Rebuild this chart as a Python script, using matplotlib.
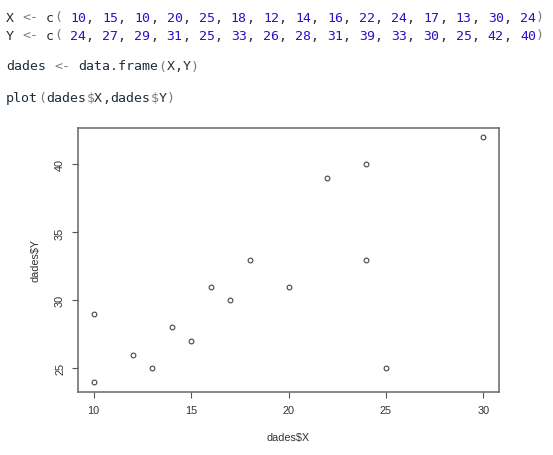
import matplotlib
matplotlib.use('Agg')
import matplotlib.pyplot as plt

# data from the R snippet
X = [10, 15, 10, 20, 25, 18, 12, 14, 16, 22, 24, 17, 13, 30, 24]
Y = [24, 27, 29, 31, 25, 33, 26, 28, 31, 39, 33, 30, 25, 42, 40]
x_ticks = [10, 15, 20, 25, 30]
y_ticks = [25, 30, 35, 40]

W, H = 553, 456
fig = plt.figure(figsize=(W / 100, H / 100), dpi=100)

###################################
#   code lines above the plot     #
###################################
ident = '#1e2d3a'
num = '#2a10c8'
oper = '#7a7a7a'
cw = 8.03      # px per monospace char
x0 = 6

def code_line(tokens, y):
    i = 0
    for txt, col in tokens:
        fig.text((x0 + i * cw) / W, 1 - y / H, txt, color=col,
                 family='DejaVu Sans Mono', fontsize=9.55, va='center', ha='left')
        i += len(txt)

def vec_tokens(name, vals):
    toks = [(name, ident), (' ', ident), ('<-', oper), (' ', ident), ('c', ident), ('(', oper), (' ', ident)]
    for k, v in enumerate(vals):
        toks.append((str(v), num))
        if k < len(vals) - 1:
            toks.append((', ', ident))
    toks.append((')', oper))
    return toks

code_line(vec_tokens('X', X), 18)
code_line(vec_tokens('Y', Y), 36)
code_line([('dades', ident), (' ', ident), ('<-', oper), (' ', ident), ('data.frame', ident),
           ('(', oper), ('X', ident), (',', ident), ('Y', ident), (')', oper)], 67)
code_line([('plot', ident), ('(', oper), ('dades', ident), ('$', oper), ('X', ident), (',', ident),
           ('dades', ident), ('$', oper), ('Y', ident), (')', oper)], 98.5)

###################################
#         the scatter plot        #
###################################
left, right, top, bottom = 78, 499, 128.5, 392.6
ax = fig.add_axes([left / W, 1 - bottom / H, (right - left) / W, (bottom - top) / H])
ax.plot(X, Y, 'o', mfc='none', mec='#444444', ms=3.4, mew=0.8)

# R style 4% extension
xr = max(X) - min(X)
yr = max(Y) - min(Y)
ax.set_xlim(min(X) - 0.04 * xr, max(X) + 0.04 * xr)
ax.set_ylim(min(Y) - 0.04 * yr, max(Y) + 0.04 * yr)
ax.set_xticks(x_ticks)
ax.set_yticks(y_ticks)
for s in ax.spines.values():
    s.set_color('#666666')
    s.set_linewidth(1.1)
ax.tick_params(length=4.3, width=0.8, color='#555555', labelsize=7.8, labelcolor='#333333', pad=5.0)
for lab in ax.get_yticklabels():
    lab.set_rotation(90)
    lab.set_va('center')
for lab in ax.get_xticklabels() + ax.get_yticklabels():
    lab.set_family('Liberation Sans')

ax.set_xlabel('dades$X', family='Liberation Sans', fontsize=7.8, color='#333333', va='center', ha='center')
ax.set_ylabel('dades$Y', family='Liberation Sans', fontsize=7.8, color='#333333', va='center', ha='center')
ax.xaxis.set_label_coords(0.5, -(438 - bottom) / (bottom - top))
ax.yaxis.set_label_coords(-(left - 35) / (right - left), 0.5)

fig.savefig('out.png', dpi=100)
